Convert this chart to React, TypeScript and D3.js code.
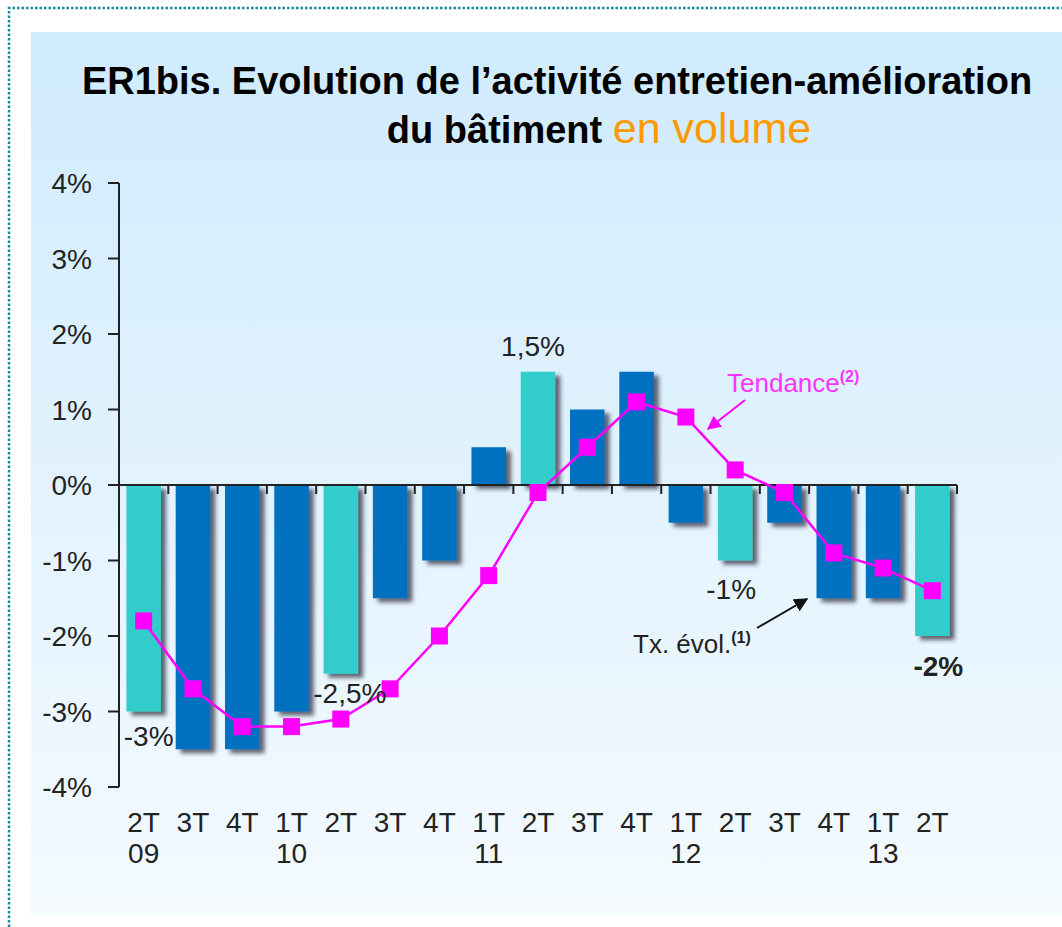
import React from "react";
import * as d3 from "d3";

// ---- Data ----
const quarters = ["2T","3T","4T","1T","2T","3T","4T","1T","2T","3T","4T","1T","2T","3T","4T","1T","2T"];
const years = ["09","","","10","","","","11","","","","12","","","","13",""];
const txEvol = [-3, -3.5, -3.5, -3, -2.5, -1.5, -1, 0.5, 1.5, 1, 1.5, -0.5, -1, -0.5, -1.5, -1.5, -2];
const tendance = [-1.8, -2.7, -3.2, -3.2, -3.1, -2.7, -2.0, -1.2, -0.1, 0.5, 1.1, 0.9, 0.2, -0.1, -0.9, -1.1, -1.4];
const yTicks = [4, 3, 2, 1, 0, -1, -2, -3, -4];
const barLabelIdx = [0, 4, 8, 12, 16];
const barLabelText = ["-3%", "-2,5%", "1,5%", "-1%", "-2%"];

// ---- Layout (styling only) ----
const W = 1062, H = 927;
const labelOffsets = [
  { dx: 5, dy: 34, bold: false },
  { dx: 9, dy: 29, bold: false },
  { dx: -5, dy: -16, bold: false },
  { dx: -4, dy: 38, bold: false },
  { dx: 6, dy: 40, bold: true },
];
const FONT = "'Liberation Sans', Arial, Helvetica, sans-serif";
const BLUE = "#0070C0";
const TURQ = "#33CCCC";
const MAG = "#FF00FF";

export default function App() {
  const idx = quarters.map((_, i) => String(i));
  const x = d3.scaleBand<string>().domain(idx).range([119, 957]).paddingInner(0.3).paddingOuter(0.15);
  const y = d3.scaleLinear().domain([-4, 4]).range([787, 183]);
  const step = x.step();
  const cx = (i: number) => (x(String(i)) as number) + x.bandwidth() / 2;
  const line = d3.line<number>().x((_, i) => cx(i)).y((d) => y(d));
  const boundaries = d3.range(1, quarters.length + 1).map((k) => 119 + k * step);

  return (
    <svg width={W} height={H} style={{ position: "absolute", left: 0, top: 0 }} fontFamily={FONT}>
      <defs>
        <linearGradient id="bg" x1="0" y1="0" x2="0" y2="1">
          <stop offset="0" stopColor="#CFEBFD" />
          <stop offset="1" stopColor="#F4FAFF" />
        </linearGradient>
        <filter id="shadow" x="-30%" y="-10%" width="160%" height="130%">
          <feDropShadow dx="5" dy="4" stdDeviation="2.2" floodColor="#223" floodOpacity="0.7" />
        </filter>
        <marker id="arrM" viewBox="0 0 10 10" refX="9" refY="5" markerWidth="7" markerHeight="7" orient="auto">
          <path d="M0,0 L10,5 L0,10 z" fill={MAG} />
        </marker>
        <marker id="arrK" viewBox="0 0 10 10" refX="9" refY="5" markerWidth="7" markerHeight="7" orient="auto">
          <path d="M0,0 L10,5 L0,10 z" fill="#111" />
        </marker>
      </defs>
      <rect x={0} y={0} width={W} height={H} fill="#fff" />
      <path d={`M9,${H} V8 H${W}`} fill="none" stroke="#178C9C" strokeWidth={2.5} strokeDasharray="2.5 2" />
      <rect x={31} y={32} width={W - 31} height={883} fill="url(#bg)" />

      {/* Title */}
      <text x={557} y={94} textAnchor="middle" fontSize={38} fontWeight="bold" fill="#000">
        ER1bis. Evolution de l’activité entretien-amélioration
      </text>
      <text x={599} y={143} textAnchor="middle" fontSize={38} fill="#000">
        <tspan fontWeight="bold">du bâtiment </tspan>
        <tspan fill="#FF9900" fontSize={43}>en volume</tspan>
      </text>

      {/* Bars */}
      <g filter="url(#shadow)">
        {txEvol.map((v, i) => (
          <rect
            key={i}
            x={x(String(i))}
            y={Math.min(y(v), y(0))}
            width={x.bandwidth()}
            height={Math.abs(y(v) - y(0))}
            fill={quarters[i] === "2T" ? TURQ : BLUE}
          />
        ))}
      </g>

      {/* Axes */}
      <g stroke="#222" strokeWidth={2}>
        <line x1={119} x2={119} y1={y(4)} y2={y(-4)} />
        {yTicks.map((t) => (
          <line key={t} x1={108} x2={119} y1={y(t)} y2={y(t)} />
        ))}
        <line x1={119} x2={957} y1={y(0)} y2={y(0)} />
        {boundaries.map((b, k) => (
          <line key={k} x1={b} x2={b} y1={y(0)} y2={y(0) + 9} />
        ))}
      </g>
      {yTicks.map((t) => (
        <text key={t} x={92} y={y(t) + 10} textAnchor="end" fontSize={28} fill="#222">
          {t}%
        </text>
      ))}

      {/* X labels */}
      {quarters.map((q, i) => (
        <text key={i} x={cx(i)} y={832} textAnchor="middle" fontSize={28} fill="#222">
          {q}
        </text>
      ))}
      {years.map((yr, i) =>
        yr ? (
          <text key={"y" + i} x={cx(i)} y={863} textAnchor="middle" fontSize={28} fill="#222">
            {yr}
          </text>
        ) : null
      )}

      {/* Trend line */}
      <path d={line(tendance) || ""} fill="none" stroke={MAG} strokeWidth={2.5} />
      {tendance.map((v, i) => (
        <rect key={i} x={cx(i) - 8.5} y={y(v) - 8.5} width={17} height={17} fill={MAG} />
      ))}

      {/* Bar value labels */}
      {barLabelIdx.map((bi, k) => {
        const v = txEvol[bi];
        const o = labelOffsets[k];
        return (
          <text key={k} x={cx(bi) + o.dx} y={y(v) + o.dy} textAnchor="middle" fontSize={28}
            fontWeight={o.bold ? "bold" : "normal"} fill="#222">
            {barLabelText[k]}
          </text>
        );
      })}

      {/* Annotations */}
      <text x={727} y={392} fontSize={26} fill="#FF33FF">
        Tendance<tspan fontSize={16} fontWeight="bold" dy={-10}>(2)</tspan>
      </text>
      <line x1={745} y1={400} x2={708} y2={429} stroke={MAG} strokeWidth={2} markerEnd="url(#arrM)" />
      <text x={633} y={653} fontSize={26} fill="#222">
        Tx. évol.<tspan fontSize={16} fontWeight="bold" dy={-10}>(1)</tspan>
      </text>
      <line x1={757} y1={628} x2={807} y2={599} stroke="#111" strokeWidth={2} markerEnd="url(#arrK)" />
    </svg>
  );
}
